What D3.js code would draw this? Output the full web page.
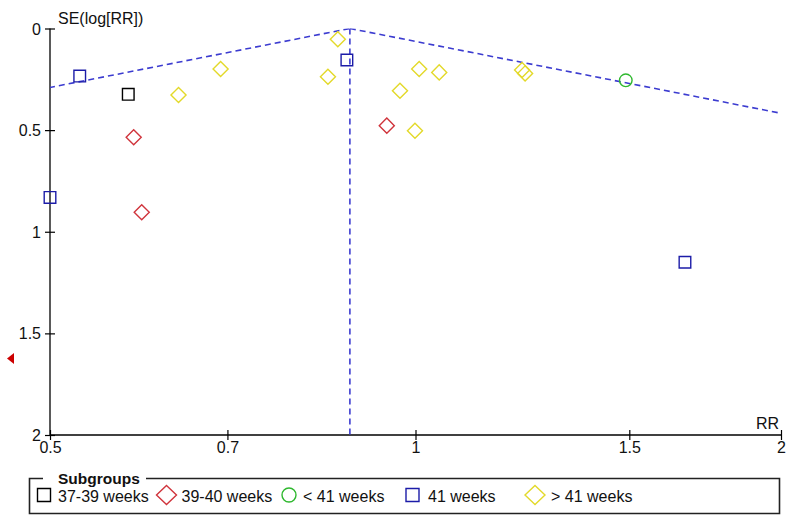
<!DOCTYPE html>
<html>
<head>
<meta charset="utf-8">
<script src="https://cdn.jsdelivr.net/npm/d3@7"></script>
<style>
  body { margin: 0; background: #fff; }
  svg { display: block; font-family: "Liberation Sans", Arial, sans-serif; }
</style>
</head>
<body>
<svg id="chart" width="800" height="521"></svg>
<script>
// ---- Data ----
const xTicks = [0.5, 0.7, 1, 1.5, 2];
const yTicks = [0, 0.5, 1, 1.5, 2];
const pooledRR = 0.883;

const subgroups = ["37-39 weeks", "39-40 weeks", "< 41 weeks", "41 weeks", "> 41 weeks"];

// [RR, SE(log RR)]
const wk37_39 = [[0.580, 0.324]];
const wk39_40 = [[0.586, 0.535], [0.595, 0.904], [0.947, 0.478]];
const wkLt41  = [[1.490, 0.255]];
const wk41    = [[0.529, 0.234], [0.500, 0.831], [0.878, 0.155], [1.667, 1.150]];
const wkGt41  = [[0.638, 0.327], [0.691, 0.199], [0.847, 0.237], [0.863, 0.053],
                 [0.971, 0.306], [0.999, 0.503], [1.007, 0.199], [1.046, 0.216],
                 [1.224, 0.204], [1.231, 0.221]];
// study off the left edge of the RR scale (shown as an arrow), SE value
const offLeftSE = [1.624];

// ---- Styling ----
const styles = [
  { shape: "square",  color: "#000000" },
  { shape: "diamond", color: "#d0343c" },
  { shape: "circle",  color: "#2eb82e" },
  { shape: "square",  color: "#1c1ca8" },
  { shape: "diamond", color: "#e3d92a" }
];
const seriesData = [wk37_39, wk39_40, wkLt41, wk41, wkGt41];

const svg = d3.select("#chart");
const x = d3.scaleLog().domain([0.5, 2]).range([50, 781]);
const y = d3.scaleLinear().domain([0, 2]).range([28.5, 435]);
const FS = 16;

function shapePath(shape, cx, cy, s) {
  if (shape === "square") {
    return `M${cx - s},${cy - s}h${2 * s}v${2 * s}h${-2 * s}Z`;
  } else if (shape === "diamond") {
    const d = s * 1.3;
    return `M${cx},${cy - d}L${cx + d},${cy}L${cx},${cy + d}L${cx - d},${cy}Z`;
  }
  return null;
}

// clip path for plot area
svg.append("defs").append("clipPath").attr("id", "plotclip")
  .append("rect").attr("x", x(0.5)).attr("y", y(0))
  .attr("width", x(2) - x(0.5)).attr("height", y(2) - y(0));

// ---- Axes ----
const xAxis = svg.append("g")
  .attr("transform", `translate(0,${y(2)})`)
  .call(d3.axisBottom(x).tickValues(xTicks).tickFormat(d3.format("")).tickSizeOuter(0).tickSizeInner(5));
xAxis.select(".domain").attr("stroke", "#000").attr("stroke-width", 1.3).attr("d", `M${x(0.5)},0H${x(2)}`);
xAxis.selectAll(".tick line").attr("y1", -5).attr("y2", 5).attr("stroke", "#000").attr("stroke-width", 1.2);
xAxis.selectAll(".tick text").attr("y", 6.5).attr("dy", "0.71em")
  .attr("font-size", FS).attr("fill", "#111").attr("font-family", "Liberation Sans, Arial, sans-serif");

const yAxis = svg.append("g")
  .attr("transform", `translate(${x(0.5)},0)`)
  .call(d3.axisLeft(y).tickValues(yTicks).tickFormat(d3.format("")).tickSizeOuter(0).tickSizeInner(5));
yAxis.select(".domain").attr("stroke", "#000").attr("stroke-width", 1.3).attr("d", `M0,${y(0)}V${y(2)}`);
yAxis.selectAll(".tick line").attr("x1", -5).attr("x2", 5).attr("stroke", "#000").attr("stroke-width", 1.2);
yAxis.selectAll(".tick text").attr("x", -9).attr("dy", "0.35em")
  .attr("font-size", FS).attr("fill", "#111").attr("font-family", "Liberation Sans, Arial, sans-serif");

// axis titles
svg.append("text").attr("x", 58).attr("y", 24).attr("font-size", FS).attr("fill", "#111")
  .text("SE(log[RR])");
svg.append("text").attr("x", 779).attr("y", 429).attr("text-anchor", "end")
  .attr("font-size", FS).attr("fill", "#111").text("RR");

// ---- Funnel (pooled estimate ± 1.96 SE) ----
const funnel = svg.append("g").attr("clip-path", "url(#plotclip)");
const dashStyle = "6,4";
const lnP = Math.log(pooledRR);
const lineGen = d3.line().x(d => x(d[0])).y(d => y(d[1]));
const funnelLeft = [[Math.exp(lnP - 1.96 * 2), 2], [pooledRR, 0]];
const funnelRight = [[pooledRR, 0], [Math.exp(lnP + 1.96 * 2), 2]];
[funnelLeft, funnelRight].forEach(seg => {
  funnel.append("path").attr("d", lineGen(seg))
    .attr("fill", "none").attr("stroke", "#3c3cd0").attr("stroke-width", 1.6)
    .attr("stroke-dasharray", dashStyle);
});
funnel.append("path").attr("d", lineGen([[pooledRR, 0], [pooledRR, 2]]))
  .attr("fill", "none").attr("stroke", "#3c3cd0").attr("stroke-width", 1.6)
  .attr("stroke-dasharray", dashStyle);

// ---- Points ----
const pts = svg.append("g");
seriesData.forEach((data, i) => {
  const st = styles[i];
  data.forEach(([rr, se]) => {
    const cx = x(rr), cy = y(se);
    if (st.shape === "circle") {
      pts.append("circle").attr("cx", cx).attr("cy", cy).attr("r", 6.3)
        .attr("fill", "none").attr("stroke", st.color).attr("stroke-width", 1.4);
    } else {
      pts.append("path").attr("d", shapePath(st.shape, cx, cy, 5.8))
        .attr("fill", "none").attr("stroke", st.color).attr("stroke-width", 1.4);
    }
  });
});

// off-scale arrow
offLeftSE.forEach(se => {
  const cy = y(se);
  svg.append("path").attr("d", `M7,${cy}L14,${cy - 5.5}L14,${cy + 5.5}Z`).attr("fill", "#cc0000");
});

// ---- Legend ----
const lg = svg.append("g");
const boxL = 29.5, boxT = 478.5, boxR = 779.5, boxB = 513.5;
const titleStart = 43, titleEnd = 146;
lg.append("path")
  .attr("d", `M${titleStart},${boxT}H${boxL}V${boxB}H${boxR}V${boxT}H${titleEnd}`)
  .attr("fill", "none").attr("stroke", "#222").attr("stroke-width", 1.6);
lg.append("text").attr("x", 58).attr("y", 484).attr("font-size", 15.5).attr("font-weight", "bold")
  .attr("fill", "#111").text("Subgroups");

const legendMarkX = [44, 166.5, 289, 412.5, 535];
const legendTextX = [58, 181.5, 303, 428, 551];
const legendY = 495;
subgroups.forEach((name, i) => {
  const st = styles[i];
  const cx = legendMarkX[i];
  if (st.shape === "circle") {
    lg.append("circle").attr("cx", cx).attr("cy", legendY).attr("r", 7)
      .attr("fill", "none").attr("stroke", st.color).attr("stroke-width", 1.4);
  } else if (st.shape === "square") {
    lg.append("path").attr("d", shapePath("square", cx, legendY, 6.5))
      .attr("fill", "none").attr("stroke", st.color).attr("stroke-width", 1.4);
  } else {
    lg.append("path").attr("d", `M${cx},${legendY - 9.5}L${cx + 10},${legendY}L${cx},${legendY + 9.5}L${cx - 10},${legendY}Z`)
      .attr("fill", "none").attr("stroke", st.color).attr("stroke-width", 1.4);
  }
  lg.append("text").attr("x", legendTextX[i]).attr("y", legendY + 6.5)
    .attr("font-size", FS).attr("fill", "#111").text(name);
});
</script>
</body>
</html>
